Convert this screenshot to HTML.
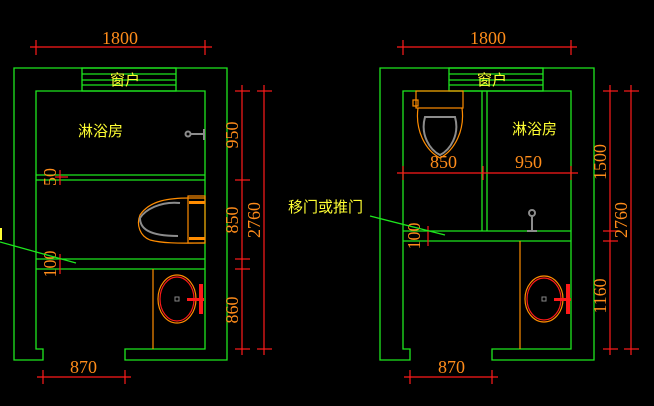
<!DOCTYPE html>
<html><head><meta charset="utf-8"><style>
html,body{margin:0;padding:0;background:#000;width:654px;height:406px;overflow:hidden}
svg{display:block}
.g{stroke:#1ee61e;fill:none;stroke-width:1.3}
.r{stroke:#ff1a1a;fill:none;stroke-width:1.2}
.o{stroke:#ff8c00;fill:none;stroke-width:1.2}
.gr{stroke:#8c8c8c;fill:none;stroke-width:2}
.d{fill:#ff8c1a;font-family:"Liberation Serif",serif;font-size:18px}
.y{fill:#ffff33;font-family:"Liberation Sans","Noto Sans CJK SC",sans-serif;font-size:15px}
</style></head><body>
<svg width="654" height="406" viewBox="0 0 654 406">
<!-- LEFT PLAN -->
<path class="g" d="M14,68 H227 V360 H125 V349 H205 V91 H36 V349 H43 V360 H14 Z"/>
<rect class="g" x="82" y="68" width="94" height="23"/>
<line class="g" x1="82" y1="74" x2="176" y2="74"/><line class="g" x1="82" y1="80" x2="176" y2="80"/><line class="g" x1="82" y1="85" x2="176" y2="85"/>
<text class="y" x="110" y="85" font-size="13">窗户</text>
<text class="y" x="78" y="136">淋浴房</text>
<line class="g" x1="36" y1="175" x2="205" y2="175"/><line class="g" x1="36" y1="180" x2="205" y2="180"/>
<line class="g" x1="36" y1="259" x2="205" y2="259"/><line class="g" x1="36" y1="269" x2="205" y2="269"/>
<line class="o" x1="153" y1="269" x2="153" y2="349"/>
<line class="gr" x1="190" y1="134" x2="204" y2="134"/><line class="gr" x1="204" y1="129" x2="204" y2="140"/><circle class="gr" cx="188" cy="134" r="2.5" stroke-width="1"/>
<path class="o" d="M205,198 H190 C170,198 150,200 140,215 C136,225 140,236 150,240 C165,244 185,243 205,243"/>
<path class="gr" d="M180,203 C160,201 145,210 140,218 C140,228 148,236 178,236" stroke-width="1.5"/>
<rect class="o" x="188" y="196" width="17" height="47"/>
<rect x="189" y="201" width="16" height="3" fill="#ff8c00"/><rect x="189" y="237" width="16" height="3" fill="#ff8c00"/>
<ellipse class="o" cx="177" cy="299" rx="19" ry="24"/><ellipse class="r" cx="177" cy="299" rx="17" ry="22"/>
<rect x="175" y="297" width="4" height="4" fill="none" stroke="#888"/>
<rect x="187" y="298" width="17" height="3" fill="#ff1a1a"/><rect x="199" y="284" width="4" height="30" fill="#ff1a1a"/>
<line class="r" x1="30" y1="47" x2="212" y2="47"/><line class="r" x1="36" y1="40" x2="36" y2="55"/><line class="r" x1="205" y1="40" x2="205" y2="55"/>
<text class="d" x="102" y="44">1800</text>
<line class="r" x1="242" y1="85" x2="242" y2="355"/><line class="r" x1="264" y1="85" x2="264" y2="355"/>
<g class="r"><line x1="235" y1="91" x2="250" y2="91"/><line x1="257" y1="91" x2="272" y2="91"/><line x1="235" y1="180" x2="250" y2="180"/><line x1="235" y1="259" x2="250" y2="259"/><line x1="235" y1="269" x2="250" y2="269"/><line x1="235" y1="349" x2="250" y2="349"/><line x1="257" y1="349" x2="272" y2="349"/></g>
<text class="d" transform="translate(238,135) rotate(-90)" text-anchor="middle">950</text>
<text class="d" transform="translate(238,220) rotate(-90)" text-anchor="middle">850</text>
<text class="d" transform="translate(260,220) rotate(-90)" text-anchor="middle">2760</text>
<text class="d" transform="translate(238,310) rotate(-90)" text-anchor="middle">860</text>
<text class="d" transform="translate(56,177) rotate(-90)" text-anchor="middle" font-size="14">50</text>
<line class="r" x1="60" y1="170" x2="60" y2="185"/><line class="r" x1="55" y1="177" x2="68" y2="177"/>
<text class="d" transform="translate(56,264) rotate(-90)" text-anchor="middle" font-size="16">100</text>
<line class="r" x1="60" y1="254" x2="60" y2="274"/>
<line class="g" x1="0" y1="242" x2="76" y2="263"/>
<rect x="0" y="228" width="2" height="12" fill="#ffff33"/>
<line class="r" x1="37" y1="377" x2="131" y2="377"/><line class="r" x1="43" y1="370" x2="43" y2="384"/><line class="r" x1="125" y1="370" x2="125" y2="384"/>
<text class="d" x="70" y="373">870</text>

<!-- RIGHT PLAN -->
<path class="g" d="M380,68 H594 V360 H492 V349 H571 V91 H403 V349 H410 V360 H380 Z"/>
<rect class="g" x="449" y="68" width="94" height="23"/>
<line class="g" x1="449" y1="74" x2="543" y2="74"/><line class="g" x1="449" y1="80" x2="543" y2="80"/><line class="g" x1="449" y1="85" x2="543" y2="85"/>
<text class="y" x="477" y="85" font-size="13">窗户</text>
<text class="y" x="512" y="134">淋浴房</text>
<line class="g" x1="482" y1="91" x2="482" y2="231"/><line class="g" x1="487" y1="91" x2="487" y2="231"/>
<line class="g" x1="403" y1="231" x2="571" y2="231"/><line class="g" x1="403" y1="241" x2="571" y2="241"/>
<line class="o" x1="520" y1="241" x2="520" y2="349"/>
<rect class="o" x="416" y="91" width="47" height="17"/>
<rect class="o" x="413" y="100" width="5" height="6"/>
<path class="o" d="M418,108 C415,130 425,150 440,158 C455,150 465,130 462,108"/>
<path class="gr" d="M425,117 C420,135 430,150 440,155 C450,150 460,135 455,117 Z" stroke-width="1.5"/>
<line class="gr" x1="532" y1="215" x2="532" y2="231"/><line class="gr" x1="527" y1="231" x2="537" y2="231"/><circle class="gr" cx="532" cy="213" r="3" stroke-width="1"/>
<ellipse class="o" cx="544" cy="299" rx="19" ry="23"/><ellipse class="r" cx="544" cy="299" rx="17" ry="21"/>
<rect x="542" y="297" width="4" height="4" fill="none" stroke="#888"/>
<rect x="554" y="298" width="17" height="3" fill="#ff1a1a"/><rect x="566" y="284" width="4" height="30" fill="#ff1a1a"/>
<line class="r" x1="397" y1="47" x2="577" y2="47"/><line class="r" x1="403" y1="40" x2="403" y2="55"/><line class="r" x1="571" y1="40" x2="571" y2="55"/>
<text class="d" x="470" y="44">1800</text>
<line class="r" x1="397" y1="173" x2="578" y2="173"/><line class="r" x1="403" y1="166" x2="403" y2="180"/><line class="r" x1="483" y1="166" x2="483" y2="180"/><line class="r" x1="571" y1="166" x2="571" y2="180"/>
<text class="d" x="430" y="168">850</text><text class="d" x="515" y="168">950</text>
<line class="r" x1="610" y1="85" x2="610" y2="355"/><line class="r" x1="631" y1="85" x2="631" y2="355"/>
<g class="r"><line x1="603" y1="91" x2="618" y2="91"/><line x1="624" y1="91" x2="639" y2="91"/><line x1="603" y1="231" x2="618" y2="231"/><line x1="603" y1="241" x2="618" y2="241"/><line x1="603" y1="349" x2="618" y2="349"/><line x1="624" y1="349" x2="639" y2="349"/></g>
<text class="d" transform="translate(606,162) rotate(-90)" text-anchor="middle">1500</text>
<text class="d" transform="translate(627,220) rotate(-90)" text-anchor="middle">2760</text>
<text class="d" transform="translate(606,296) rotate(-90)" text-anchor="middle">1160</text>
<text class="d" transform="translate(420,236) rotate(-90)" text-anchor="middle" font-size="16">100</text>
<line class="r" x1="428" y1="226" x2="428" y2="246"/>
<text class="y" x="288" y="212">移门或推门</text>
<line class="g" x1="370" y1="216" x2="445" y2="235"/>
<line class="r" x1="404" y1="377" x2="498" y2="377"/><line class="r" x1="410" y1="370" x2="410" y2="384"/><line class="r" x1="492" y1="370" x2="492" y2="384"/>
<text class="d" x="438" y="373">870</text>
</svg>
</body></html>
